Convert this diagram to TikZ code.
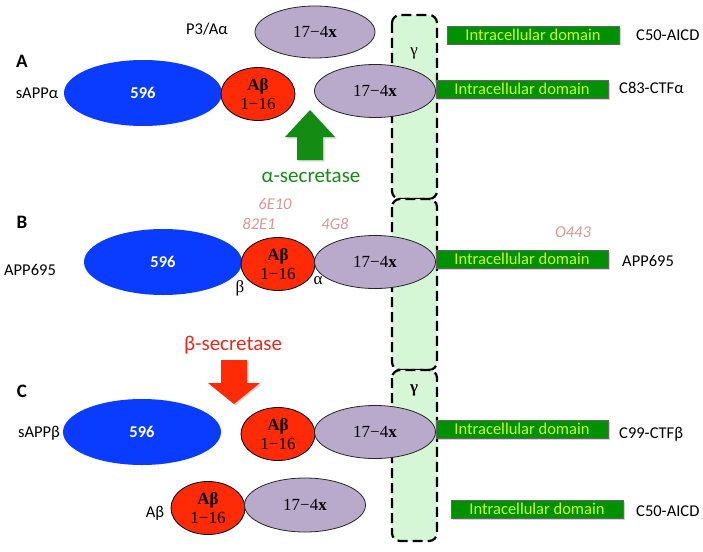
\documentclass[tikz,border=0pt]{standalone}
\usepackage{fontspec}
\setmainfont{Carlito}
\newfontfamily\cambr{Liberation Serif}
\usetikzlibrary{shapes.geometric,shadows}
\definecolor{appblue}{RGB}{10,60,255}
\definecolor{appred}{RGB}{255,42,6}
\definecolor{lilac}{RGB}{185,170,203}
\definecolor{icdgreen}{RGB}{0,145,0}
\definecolor{icdtext}{RGB}{205,255,40}
\definecolor{memfill}{RGB}{214,247,214}
\definecolor{agreen}{RGB}{20,140,20}
\definecolor{bred}{RGB}{236,40,28}
\definecolor{abpink}{RGB}{216,150,150}
\tikzset{
  lbl/.style={font=\fontsize{16.5}{19}\selectfont, inner sep=0pt},
  panel/.style={font=\fontsize{19}{22}\selectfont\bfseries, inner sep=0pt},
  abody/.style={font=\fontsize{16.5}{19}\selectfont\itshape, text=abpink, inner sep=0pt},
  greek/.style={font=\cambr\fontsize{17}{19}\selectfont, inner sep=0pt},
  blueell/.style={ellipse, fill=appblue, minimum width=158pt, minimum height=66pt, inner sep=0pt,
    text=white, font=\fontsize{16.5}{19}\selectfont\bfseries},
  redell/.style={ellipse, draw=black, line width=0.8pt, fill=appred, minimum width=74pt, minimum height=53pt,
    inner sep=0pt, align=center, font=\cambr\fontsize{17}{18.5}\selectfont},
  lilell/.style={ellipse, draw=black!85, line width=0.8pt, fill=lilac, minimum width=121pt, minimum height=53pt,
    inner sep=0pt, font=\cambr\fontsize{17}{19}\selectfont},
  icd/.style={rectangle, draw=black!60, line width=0.6pt, fill=icdgreen, minimum width=172pt, minimum height=18pt,
    inner sep=0pt, text=icdtext, font=\fontsize{16.5}{18}\selectfont,
    drop shadow={shadow xshift=1.5pt, shadow yshift=-1.5pt, opacity=0.35}},
  membrane/.style={draw=black, fill=memfill, line width=2.2pt, dash pattern=on 10pt off 5pt, rounded corners=8pt}
}
\begin{document}
\begin{tikzpicture}[x=1pt,y=-1pt]
\fill[white] (0,0) rectangle (703,551);
\useasboundingbox (0,0) rectangle (703,551);
% membrane
\draw[membrane] (392,15) rectangle (437,199);
\draw[membrane] (392,199) rectangle (437,370);
\draw[membrane] (392,370) rectangle (437,541);
\node[greek] (g1) at (414,53) {γ};
\node[greek, font=\cambr\bfseries\fontsize{17}{19}\selectfont] (g3) at (414,390) {γ};

% ---------- Row A ----------
\node[panel] (pA) at (22,61) {A};
\node[lbl] (p3) at (207,29) {P3/Aα};
\node[lilell, minimum width=120pt, minimum height=52pt] (lilA1) at (315,32) {17−4\textbf{x}};
\node[icd] (icdA1) at (533,35) {Intracellular domain};
\node[lbl, anchor=west] (c50a) at (636,35) {C50-AICD};

\node[lbl] (sappa) at (37,93) {sAPPα};
\node[blueell] (blueA) at (143,93) {596};
\node[redell] (redA) at (258,94) {\textbf{Aβ}\\1−16};
\node[lilell] (lilA2) at (375,91) {17−4\textbf{x}};
\node[icd] (icdA2) at (522,89) {Intracellular domain};
\node[lbl, anchor=west] (c83) at (619,88) {C83-CTFα};

\fill[agreen, drop shadow={shadow xshift=1.5pt, shadow yshift=-1.5pt, opacity=0.3}]
  (285,137) -- (310,110) -- (335,137) -- (323,137) -- (323,160) -- (297,160) -- (297,137) -- cycle;
\node[lbl, font=\fontsize{21}{24}\selectfont, text=agreen] (asec) at (311,176) {α-secretase};

% ---------- Row B ----------
\node[panel] (pB) at (22,222) {B};
\node[abody] (e610) at (275,204) {6E10};
\node[abody] (e821) at (259,224) {82E1};
\node[abody] (g48) at (335,224) {4G8};
\node[abody] (o443) at (573,232) {O443};

\node[lbl] (app1) at (30,270) {APP695};
\node[blueell] (blueB) at (163,262) {596};
\node[redell] (redB) at (278,264) {\textbf{Aβ}\\1−16};
\node[lilell] (lilB) at (375,262) {17−4\textbf{x}};
\node[icd] (icdB) at (522,259) {Intracellular domain};
\node[lbl, anchor=west] (app2) at (622,261) {APP695};
\node[greek] (bsite) at (240,288) {β};
\node[greek] (asite) at (318,281) {α};

\node[lbl, font=\fontsize{21}{24}\selectfont, text=bred] (bsec) at (233,345) {β-secretase};
\fill[appred, drop shadow={shadow xshift=1.5pt, shadow yshift=-1.5pt, opacity=0.3}]
  (221,360) -- (247,360) -- (247,383) -- (260,383) -- (234,404) -- (208,383) -- (221,383) -- cycle;

% ---------- Row C ----------
\node[panel] (pC) at (22,391) {C};
\node[lbl] (sappb) at (39,433) {sAPPβ};
\node[blueell] (blueC) at (142,432) {596};
\node[redell] (redC) at (278,434) {\textbf{Aβ}\\1−16};
\node[lilell] (lilC) at (375,432) {17−4\textbf{x}};
\node[icd] (icdC) at (522,429) {Intracellular domain};
\node[lbl, anchor=west] (c99) at (619,434) {C99-CTFβ};

\node[lbl] (abl) at (155,513) {Aβ};
\node[redell] (redD) at (208,508) {\textbf{Aβ}\\1−16};
\node[lilell, minimum height=54pt] (lilD) at (305,505) {17−4\textbf{x}};
\node[icd] (icdD) at (537,509) {Intracellular domain};
\node[lbl, anchor=west] (c50c) at (636,511) {C50-AICD};
\end{tikzpicture}
\end{document}
